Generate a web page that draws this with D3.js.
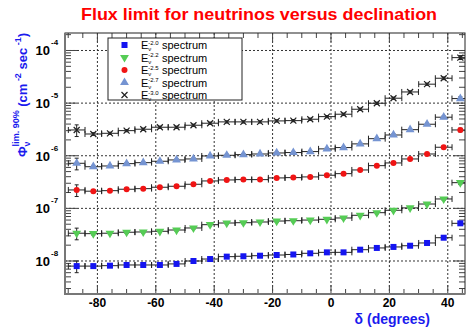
<!DOCTYPE html>
<html>
<head>
<meta charset="utf-8">
<script src="https://cdn.jsdelivr.net/npm/d3@7"></script>
<style>
  body { margin: 0; background: #fff; }
  svg { display: block; }
  text { font-family: "Liberation Sans", Arial, sans-serif; }
</style>
</head>
<body>
<svg id="chart" width="466" height="328"></svg>
<script>
// declination bin centres (degrees), bins 5.72 deg wide
const decl = [-87.1, -81.4, -75.7, -70.0, -64.3, -58.6, -52.9, -47.1, -41.4, -35.7, -30.0, -24.3,
              -18.6, -12.9, -7.1, -1.4, 4.3, 10.0, 15.7, 21.4, 27.1, 32.9, 38.6, 44.3];
const halfBin = 2.86;

// flux limits per spectrum
const flux20 = [8.0e-9, 8.0e-9, 8.15e-9, 8.4e-9, 8.4e-9, 8.4e-9, 8.8e-9, 1.0e-8, 1.09e-8, 1.21e-8, 1.23e-8, 1.26e-8,
                1.30e-8, 1.33e-8, 1.40e-8, 1.46e-8, 1.46e-8, 1.64e-8, 1.77e-8, 1.85e-8, 1.95e-8, 2.2e-8, 2.77e-8, 5.2e-8];
const flux22 = [3.37e-8, 3.31e-8, 3.37e-8, 3.52e-8, 3.56e-8, 3.67e-8, 3.88e-8, 4.24e-8, 4.9e-8, 5.27e-8, 5.34e-8, 5.51e-8,
                5.75e-8, 5.83e-8, 6.0e-8, 6.2e-8, 6.57e-8, 7.39e-8, 8.28e-8, 9.2e-8, 1.02e-7, 1.21e-7, 1.51e-7, 3.08e-7];
const flux25 = [2.24e-7, 2.12e-7, 2.17e-7, 2.31e-7, 2.37e-7, 2.52e-7, 2.63e-7, 2.87e-7, 3.32e-7, 3.47e-7, 3.52e-7, 3.52e-7,
                3.79e-7, 3.84e-7, 3.96e-7, 4.26e-7, 4.57e-7, 5.37e-7, 6.48e-7, 7.3e-7, 8.69e-7, 1.08e-6, 1.45e-6, 3.09e-6];
const flux27 = [7.19e-7, 6.19e-7, 6.39e-7, 7.08e-7, 7.39e-7, 7.86e-7, 8.32e-7, 8.69e-7, 9.91e-7, 1.02e-6, 1.05e-6, 1.08e-6,
                1.13e-6, 1.15e-6, 1.2e-6, 1.35e-6, 1.43e-6, 1.68e-6, 2.11e-6, 2.48e-6, 3.13e-6, 3.97e-6, 5.4e-6, 1.22e-5];
const flux30 = [3.09e-6, 2.59e-6, 2.67e-6, 3.0e-6, 3.19e-6, 3.48e-6, 3.48e-6, 3.8e-6, 4.15e-6, 4.4e-6, 4.4e-6, 4.4e-6,
                4.59e-6, 4.65e-6, 4.94e-6, 5.54e-6, 6.15e-6, 7.65e-6, 9.95e-6, 1.24e-5, 1.63e-5, 2.29e-5, 2.97e-5, 7.32e-5];
// relative vertical error per bin
const relErr = [0.25, 0.06, 0.05, 0.05, 0.05, 0.05, 0.05, 0.05, 0.05, 0.05, 0.05, 0.05,
                0.05, 0.05, 0.05, 0.05, 0.05, 0.05, 0.05, 0.05, 0.05, 0.05, 0.06, 0.08];

const seriesNames = ["-2.0", "-2.2", "-2.5", "-2.7", "-3.0"];
const seriesValues = [flux20, flux22, flux25, flux27, flux30];

const xTicks = [-80, -60, -40, -20, 0, 20, 40];
const yTicks = [1e-8, 1e-7, 1e-6, 1e-5, 1e-4];
const yTickExp = ["-8", "-7", "-6", "-5", "-4"];

const markerStyle = [
    {shape: "square", color: "#1414f0"},
    {shape: "tridown", color: "#55cc55"},
    {shape: "circle", color: "#f01414"},
    {shape: "triup", color: "#7594d2"},
    {shape: "cross", color: "#222"}
];

const svg = d3.select("#chart");
const frameL = 65, frameR = 465, frameT = 33, frameB = 294;

const x = d3.scaleLinear().domain([-91.1, 45.9]).range([frameL, frameR]);
const y = d3.scaleLog().domain([2.36e-9, 2.15e-4]).range([frameB, frameT]);

// title
svg.append("text")
    .attr("x", 259).attr("y", 20)
    .attr("text-anchor", "middle")
    .attr("font-size", 17).attr("font-weight", "bold")
    .attr("fill", "#ff0000")
    .attr("textLength", 356).attr("lengthAdjust", "spacingAndGlyphs")
    .text("Flux limit for neutrinos versus declination");

let plot = svg.append("g");

// grid
plot.selectAll(".vgrid").data(xTicks).enter().append("line")
    .attr("x1", d => x(d)).attr("x2", d => x(d))
    .attr("y1", frameT).attr("y2", frameB)
    .attr("stroke", "#333").attr("stroke-width", 1)
    .attr("stroke-dasharray", "2,2");
plot.selectAll(".hgrid").data(yTicks).enter().append("line")
    .attr("x1", frameL).attr("x2", frameR)
    .attr("y1", d => y(d)).attr("y2", d => y(d))
    .attr("stroke", "#333").attr("stroke-width", 1)
    .attr("stroke-dasharray", "2,2");

// x ticks (major every 20, minor every 5), bottom and top
let xMinor = d3.range(-90, 46, 5);
xMinor.forEach(v => {
    let len = (v % 20 === 0) ? 9 : 5;
    plot.append("line").attr("x1", x(v)).attr("x2", x(v))
        .attr("y1", frameB).attr("y2", frameB - len).attr("stroke", "#444");
    plot.append("line").attr("x1", x(v)).attr("x2", x(v))
        .attr("y1", frameT).attr("y2", frameT + len).attr("stroke", "#444");
});
// y ticks (log), left and right
let yMinor = [];
[-9, -8, -7, -6, -5, -4].forEach(e => {
    for (let m = 1; m < 10; m++) {
        let v = m * Math.pow(10, e);
        if (v >= 2.36e-9 && v <= 2.15e-4) yMinor.push({v: v, major: m === 1});
    }
});
yMinor.forEach(t => {
    let len = t.major ? 12 : 6;
    plot.append("line").attr("x1", frameL).attr("x2", frameL + len)
        .attr("y1", y(t.v)).attr("y2", y(t.v)).attr("stroke", "#444");
    plot.append("line").attr("x1", frameR).attr("x2", frameR - len)
        .attr("y1", y(t.v)).attr("y2", y(t.v)).attr("stroke", "#444");
});

// x tick labels
svg.selectAll(".xlab").data(xTicks).enter().append("text")
    .attr("x", d => x(d)).attr("y", 307)
    .attr("text-anchor", "middle")
    .attr("font-size", 12).attr("font-weight", "bold")
    .text(d => d);

// y tick labels 10^n
yTicks.forEach((v, i) => {
    svg.append("text")
        .attr("x", 50).attr("y", y(v) + 5)
        .attr("text-anchor", "end")
        .attr("font-size", 13).attr("font-weight", "bold")
        .text("10");
    svg.append("text")
        .attr("x", 51).attr("y", y(v) - 5)
        .attr("font-size", 8).attr("font-weight", "bold")
        .text(yTickExp[i]);
});

// axis titles
svg.append("text")
    .attr("x", 430).attr("y", 323.5)
    .attr("text-anchor", "end")
    .attr("font-size", 14).attr("font-weight", "bold")
    .attr("fill", "#1a1aee")
    .text("\u03b4 (degrees)");

let ylab = svg.append("text")
    .attr("transform", "translate(27,95) rotate(-90)")
    .attr("text-anchor", "middle")
    .attr("font-size", 13).attr("font-weight", "bold")
    .attr("fill", "#1a1aee");
ylab.append("tspan").text("\u03a6");
ylab.append("tspan").attr("font-size", 9).attr("dy", 3).text("\u03bd");
ylab.append("tspan").attr("font-size", 9).attr("dx", -5).attr("dy", -11).text("lim. 90%");
ylab.append("tspan").attr("dy", 8).text(" (cm");
ylab.append("tspan").attr("font-size", 9).attr("dy", -6).text(" -2");
ylab.append("tspan").attr("dy", 6).text(" sec");
ylab.append("tspan").attr("font-size", 9).attr("dy", -6).text(" -1");
ylab.append("tspan").attr("dy", 6).text(")");

// marker drawing helper
function drawMarker(g, shape, color, cx, cy) {
    if (shape === "square") {
        g.append("rect").attr("x", cx - 3).attr("y", cy - 3)
            .attr("width", 6).attr("height", 6).attr("fill", color);
    } else if (shape === "circle") {
        g.append("circle").attr("cx", cx).attr("cy", cy).attr("r", 3).attr("fill", color);
    } else if (shape === "triup" || shape === "tridown") {
        g.append("path")
            .attr("d", d3.symbol().type(d3.symbolTriangle).size(34)())
            .attr("transform", "translate(" + cx + "," + cy + ")" + (shape === "tridown" ? " rotate(180)" : ""))
            .attr("fill", color);
    } else {
        g.append("path")
            .attr("d", "M" + (cx - 3) + "," + (cy - 3) + "L" + (cx + 3) + "," + (cy + 3) +
                       "M" + (cx - 3) + "," + (cy + 3) + "L" + (cx + 3) + "," + (cy - 3))
            .attr("stroke", color).attr("stroke-width", 1.2).attr("fill", "none");
    }
}

// data
let dataG = svg.append("g");
seriesValues.forEach((vals, s) => {
    let g = dataG.append("g");
    let pts = decl.map((d, i) => ({d: d, v: vals[i], e: relErr[i]}));
    pts.forEach(p => {
        let cy = y(p.v);
        let x0 = x(p.d - halfBin), x1 = x(p.d + halfBin);
        g.append("line").attr("x1", x0).attr("x2", Math.min(x1, frameR))
            .attr("y1", cy).attr("y2", cy).attr("stroke", "#222").attr("stroke-width", 1);
        g.append("line").attr("x1", x0).attr("x2", x0)
            .attr("y1", cy - 3).attr("y2", cy + 3).attr("stroke", "#222");
        if (x1 <= frameR) {
            g.append("line").attr("x1", x1).attr("x2", x1)
                .attr("y1", cy - 3).attr("y2", cy + 3).attr("stroke", "#222");
        }
        let ya = y(p.v * (1 + p.e)), yb = y(p.v * (1 - p.e));
        g.append("line").attr("x1", x(p.d)).attr("x2", x(p.d))
            .attr("y1", ya).attr("y2", yb).attr("stroke", "#222");
        g.append("line").attr("x1", x(p.d) - 2).attr("x2", x(p.d) + 2)
            .attr("y1", ya).attr("y2", ya).attr("stroke", "#222");
        g.append("line").attr("x1", x(p.d) - 2).attr("x2", x(p.d) + 2)
            .attr("y1", yb).attr("y2", yb).attr("stroke", "#222");
    });
    pts.forEach(p => drawMarker(g, markerStyle[s].shape, markerStyle[s].color, x(p.d), y(p.v)));
});

// frame
svg.append("rect")
    .attr("x", frameL).attr("y", frameT)
    .attr("width", frameR - frameL).attr("height", frameB - frameT)
    .attr("fill", "none").attr("stroke", "#222").attr("stroke-width", 1);
svg.append("line").attr("x1", frameL).attr("x2", frameL).attr("y1", frameT).attr("y2", frameB + 1)
    .attr("stroke", "#777").attr("stroke-width", 2);
svg.append("line").attr("x1", frameL).attr("x2", frameR).attr("y1", frameB).attr("y2", frameB)
    .attr("stroke", "#777").attr("stroke-width", 2);

// legend
let legend = svg.append("g");
legend.append("rect")
    .attr("x", 108).attr("y", 38).attr("width", 134).attr("height", 62)
    .attr("fill", "#fff").attr("stroke", "#222").attr("stroke-width", 1);
seriesNames.forEach((name, i) => {
    let ly = 45 + i * 12.5;
    drawMarker(legend, markerStyle[i].shape, markerStyle[i].color, 124.5, ly);
    let t = legend.append("text")
        .attr("x", 141).attr("y", ly + 4)
        .attr("font-size", 11);
    t.append("tspan").text("E");
    t.append("tspan").attr("font-size", 6).attr("dy", 2).text("\u03bd");
    t.append("tspan").attr("font-size", 6).attr("dx", -3).attr("dy", -6.5).text(name);
    t.append("tspan").attr("x", 162).attr("dy", 4.5).text("spectrum");
});
</script>
</body>
</html>
